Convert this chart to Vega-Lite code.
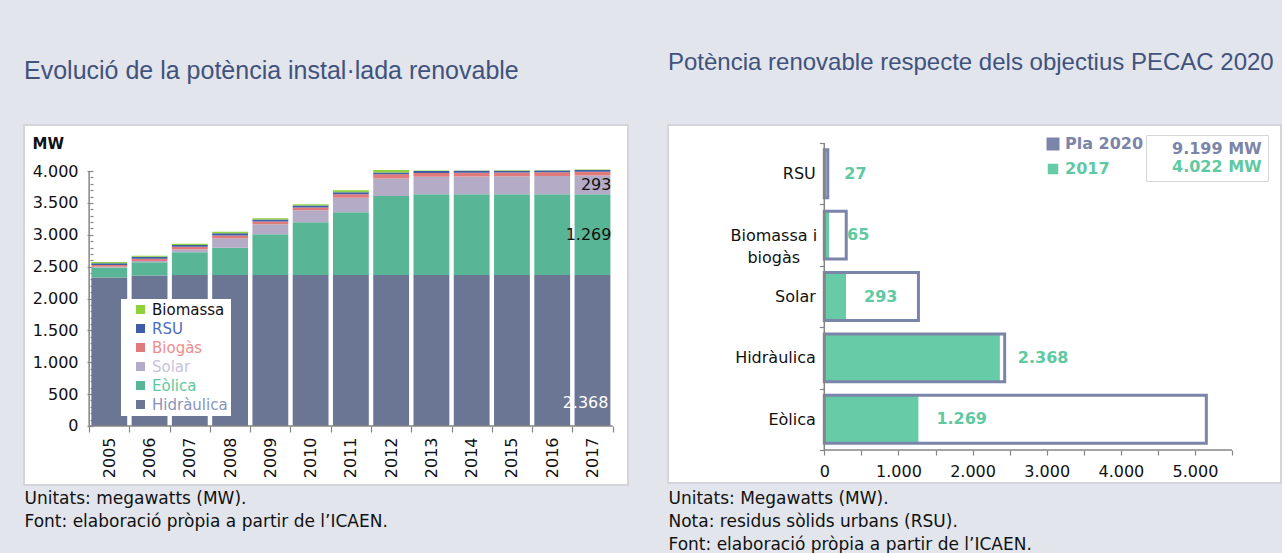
{
  "$schema": "https://vega.github.io/schema/vega-lite/v6.json",
  "background": "#e2e5ec",
  "padding": {"left": 15, "top": 50, "right": 0, "bottom": 0},
  "spacing": 38,
  "config": {
    "locale": {"number": {"decimal": ",", "thousands": ".", "grouping": [3], "currency": ["", " €"]}},
    "font": "DejaVu Sans",
    "axis": {"labelFont": "DejaVu Sans", "titleFont": "DejaVu Sans"},
    "legend": {"labelFont": "DejaVu Sans"}
  },
  "resolve": {
    "scale": {"x": "independent", "y": "independent", "color": "independent", "opacity": "independent"},
    "legend": {"color": "independent", "opacity": "independent"},
    "axis": {"x": "independent", "y": "independent"}
  },
  "hconcat": [
    {
      "width": 604,
      "height": 360,
      "view": {"fill": "white", "stroke": "#d3d5da", "strokeWidth": 2},
      "title": {"text": "Evolució de la potència instal·lada renovable", "anchor": "start", "frame": "group", "font": "Liberation Sans", "fontSize": 25, "fontWeight": "normal", "color": "#41527c", "offset": 41},
      "data": {"values": [
        {"year": "2005", "serie": "Hidràulica", "value": 2331}, {"year": "2005", "serie": "Eòlica", "value": 156}, {"year": "2005", "serie": "Solar", "value": 10}, {"year": "2005", "serie": "Biogàs", "value": 30}, {"year": "2005", "serie": "RSU", "value": 25}, {"year": "2005", "serie": "Biomassa", "value": 20},
        {"year": "2006", "serie": "Hidràulica", "value": 2362}, {"year": "2006", "serie": "Eòlica", "value": 208}, {"year": "2006", "serie": "Solar", "value": 20}, {"year": "2006", "serie": "Biogàs", "value": 35}, {"year": "2006", "serie": "RSU", "value": 30}, {"year": "2006", "serie": "Biomassa", "value": 15},
        {"year": "2007", "serie": "Hidràulica", "value": 2368}, {"year": "2007", "serie": "Eòlica", "value": 359}, {"year": "2007", "serie": "Solar", "value": 43}, {"year": "2007", "serie": "Biogàs", "value": 40}, {"year": "2007", "serie": "RSU", "value": 30}, {"year": "2007", "serie": "Biomassa", "value": 18},
        {"year": "2008", "serie": "Hidràulica", "value": 2368}, {"year": "2008", "serie": "Eòlica", "value": 427}, {"year": "2008", "serie": "Solar", "value": 152}, {"year": "2008", "serie": "Biogàs", "value": 40}, {"year": "2008", "serie": "RSU", "value": 35}, {"year": "2008", "serie": "Biomassa", "value": 24},
        {"year": "2009", "serie": "Hidràulica", "value": 2368}, {"year": "2009", "serie": "Eòlica", "value": 641}, {"year": "2009", "serie": "Solar", "value": 157}, {"year": "2009", "serie": "Biogàs", "value": 42}, {"year": "2009", "serie": "RSU", "value": 30}, {"year": "2009", "serie": "Biomassa", "value": 22},
        {"year": "2010", "serie": "Hidràulica", "value": 2368}, {"year": "2010", "serie": "Eòlica", "value": 829}, {"year": "2010", "serie": "Solar", "value": 189}, {"year": "2010", "serie": "Biogàs", "value": 42}, {"year": "2010", "serie": "RSU", "value": 30}, {"year": "2010", "serie": "Biomassa", "value": 22},
        {"year": "2011", "serie": "Hidràulica", "value": 2368}, {"year": "2011", "serie": "Eòlica", "value": 986}, {"year": "2011", "serie": "Solar", "value": 225}, {"year": "2011", "serie": "Biogàs", "value": 58}, {"year": "2011", "serie": "RSU", "value": 28}, {"year": "2011", "serie": "Biomassa", "value": 34},
        {"year": "2012", "serie": "Hidràulica", "value": 2368}, {"year": "2012", "serie": "Eòlica", "value": 1240}, {"year": "2012", "serie": "Solar", "value": 274}, {"year": "2012", "serie": "Biogàs", "value": 68}, {"year": "2012", "serie": "RSU", "value": 27}, {"year": "2012", "serie": "Biomassa", "value": 39},
        {"year": "2013", "serie": "Hidràulica", "value": 2368}, {"year": "2013", "serie": "Eòlica", "value": 1268}, {"year": "2013", "serie": "Solar", "value": 275}, {"year": "2013", "serie": "Biogàs", "value": 57}, {"year": "2013", "serie": "RSU", "value": 33}, {"year": "2013", "serie": "Biomassa", "value": 5},
        {"year": "2014", "serie": "Hidràulica", "value": 2368}, {"year": "2014", "serie": "Eòlica", "value": 1268}, {"year": "2014", "serie": "Solar", "value": 278}, {"year": "2014", "serie": "Biogàs", "value": 57}, {"year": "2014", "serie": "RSU", "value": 33}, {"year": "2014", "serie": "Biomassa", "value": 5},
        {"year": "2015", "serie": "Hidràulica", "value": 2368}, {"year": "2015", "serie": "Eòlica", "value": 1268}, {"year": "2015", "serie": "Solar", "value": 282}, {"year": "2015", "serie": "Biogàs", "value": 57}, {"year": "2015", "serie": "RSU", "value": 30}, {"year": "2015", "serie": "Biomassa", "value": 5},
        {"year": "2016", "serie": "Hidràulica", "value": 2368}, {"year": "2016", "serie": "Eòlica", "value": 1269}, {"year": "2016", "serie": "Solar", "value": 285}, {"year": "2016", "serie": "Biogàs", "value": 58}, {"year": "2016", "serie": "RSU", "value": 27}, {"year": "2016", "serie": "Biomassa", "value": 5},
        {"year": "2017", "serie": "Hidràulica", "value": 2368}, {"year": "2017", "serie": "Eòlica", "value": 1269}, {"year": "2017", "serie": "Solar", "value": 293}, {"year": "2017", "serie": "Biogàs", "value": 60}, {"year": "2017", "serie": "RSU", "value": 27}, {"year": "2017", "serie": "Biomassa", "value": 5}
      ]},
      "encoding": {
        "x": {
          "field": "year", "type": "ordinal",
          "scale": {"paddingInner": 0, "paddingOuter": 1.069, "align": 0.809},
          "axis": {
            "orient": "bottom", "offset": -59, "domain": false, "grid": false,
            "tickBand": "extent", "tickSize": 6, "tickColor": "#858585", "tickWidth": 1.2,
            "labelAngle": -90, "labelFontSize": 16, "labelColor": "#111111", "labelPadding": 5,
            "title": ["Unitats: megawatts (MW).", "Font: elaboració pròpia a partir de l’ICAEN."],
            "titleX": 0, "titleY": 64, "titleAlign": "left", "titleBaseline": "top", "titleAnchor": "start",
            "titleFontSize": 17, "titleFontWeight": "normal", "titleColor": "#111111", "titleLineHeight": 23
          }
        },
        "y": {
          "type": "quantitative",
          "scale": {"domain": [-925.5, 4721.6], "nice": false, "zero": false},
          "axis": {
            "orient": "left", "offset": -69, "domain": false, "grid": false,
            "values": [0,100,200,300,400,500,600,700,800,900,1000,1100,1200,1300,1400,1500,1600,1700,1800,1900,2000,2100,2200,2300,2400,2500,2600,2700,2800,2900,3000,3100,3200,3300,3400,3500,3600,3700,3800,3900,4000],
            "format": ",.0f", "labelExpr": "datum.value % 500 === 0 ? datum.label : ''", "labelOverlap": false, "labelFlush": false,
            "tickSize": {"condition": {"test": "datum.value % 500 === 0", "value": 6}, "value": 3},
            "tickColor": "#858585", "tickWidth": 1.2,
            "labelFontSize": 16, "labelColor": "#111111", "labelPadding": 9,
            "title": "MW", "titleAngle": 0, "titleX": -61, "titleY": 18, "titleAlign": "left", "titleBaseline": "middle",
            "titleFontSize": 15, "titleFontWeight": "bold", "titleColor": "#111111"
          }
        }
      },
      "layer": [
        {
          "transform": [{"calculate": "indexof(['Hidràulica','Eòlica','Solar','Biogàs','RSU','Biomassa'], datum.serie)", "as": "ord"}],
          "mark": {"type": "bar", "width": {"band": 0.89}},
          "encoding": {
            "y": {"field": "value", "type": "quantitative", "stack": "zero"},
            "color": {
              "field": "serie", "type": "nominal",
              "scale": {"domain": ["Biomassa", "RSU", "Biogàs", "Solar", "Eòlica", "Hidràulica"], "range": ["#8fd13c", "#3f5da6", "#e17b7b", "#b4abc6", "#58b595", "#6b7594"]},
              "legend": {
                "orient": "none", "legendX": 97, "legendY": 174, "title": null,
                "fillColor": "white", "padding": 3, "symbolType": "square", "symbolSize": 81, "symbolOffset": 9, "symbolStrokeWidth": 0,
                "labelFontSize": 15, "labelOffset": 4, "rowPadding": 3,
                "labelColor": {"expr": "datum.label == 'Biomassa' ? '#111111' : datum.label == 'RSU' ? '#4b6cc1' : datum.label == 'Biogàs' ? '#f08c8c' : datum.label == 'Solar' ? '#c8c2dc' : datum.label == 'Eòlica' ? '#5ec8a0' : '#8a93ba'"}
              }
            },
            "order": {"field": "ord", "type": "quantitative"}
          }
        },
        {
          "transform": [
            {"filter": "datum.year == '2017'"},
            {"calculate": "indexof(['Hidràulica','Eòlica','Solar','Biogàs','RSU','Biomassa'], datum.serie)", "as": "ord"}
          ],
          "mark": {"type": "text", "align": "right", "baseline": "middle", "dx": 19, "fontSize": 16, "color": "#111111"},
          "encoding": {
            "y": {"field": "value", "type": "quantitative", "stack": "zero", "bandPosition": 0.5},
            "detail": {"field": "serie"},
            "order": {"field": "ord", "type": "quantitative"},
            "text": {"condition": {"test": "datum.serie == 'Solar' || datum.serie == 'Eòlica'", "field": "value", "type": "quantitative", "format": ",.0f"}, "value": ""}
          }
        },
        {
          "transform": [{"filter": "datum.year == '2017' && datum.serie == 'Hidràulica'"}],
          "mark": {"type": "text", "align": "right", "baseline": "middle", "dx": 16, "fontSize": 16, "color": "white"},
          "encoding": {
            "y": {"field": "value", "type": "quantitative", "stack": "zero", "bandPosition": 0.15},
            "detail": {"field": "serie"},
            "text": {"field": "value", "type": "quantitative", "format": ",.0f"}
          }
        },
        {
          "data": {"values": [{}]},
          "mark": {"type": "rule", "color": "#858585", "strokeWidth": 1.5},
          "encoding": {
            "x": {"datum": "2005", "type": "ordinal", "bandPosition": 0},
            "y": {"datum": 0, "type": "quantitative"},
            "y2": {"datum": 4000}
          }
        },
        {
          "data": {"values": [{}]},
          "mark": {"type": "rule", "color": "#858585", "strokeWidth": 1.5},
          "encoding": {
            "x": {"datum": "2005", "type": "ordinal", "bandPosition": 0},
            "x2": {"datum": "2017", "bandPosition": 1},
            "y": {"datum": 0, "type": "quantitative"}
          }
        }
      ]
    },
    {
      "width": 613,
      "height": 358,
      "view": {"fill": "white", "stroke": "#d3d5da", "strokeWidth": 2},
      "title": {"text": "Potència renovable respecte dels objectius PECAC 2020", "anchor": "start", "frame": "group", "font": "Liberation Sans", "fontSize": 24, "fontWeight": "normal", "color": "#41527c", "offset": 42},
      "data": {"values": [
        {"cat": "RSU", "serie": "Pla 2020", "value": 47},
        {"cat": "Biomassa i biogàs", "serie": "Pla 2020", "value": 296},
        {"cat": "Solar", "serie": "Pla 2020", "value": 1270},
        {"cat": "Hidràulica", "serie": "Pla 2020", "value": 2433},
        {"cat": "Eòlica", "serie": "Pla 2020", "value": 5153},
        {"cat": "RSU", "serie": "2017", "value": 27},
        {"cat": "Biomassa i biogàs", "serie": "2017", "value": 65},
        {"cat": "Solar", "serie": "2017", "value": 293},
        {"cat": "Hidràulica", "serie": "2017", "value": 2368},
        {"cat": "Eòlica", "serie": "2017", "value": 1269}
      ]},
      "encoding": {
        "y": {
          "field": "cat", "type": "nominal",
          "scale": {"domain": ["RSU", "Biomassa i biogàs", "Solar", "Hidràulica", "Eòlica"], "paddingInner": 0, "paddingOuter": 0.415, "align": 0.353},
          "axis": {
            "orient": "left", "offset": -156.3, "domain": false, "grid": false, "title": null,
            "tickBand": "extent", "tickSize": 5, "tickColor": "#858585", "tickWidth": 1.2,
            "labelFontSize": 16, "labelColor": "#111111", "labelLineHeight": 22,
            "labelExpr": "datum.value == 'Biomassa i biogàs' ? ['Biomassa i', 'biogàs'] : datum.label",
            "labelAlign": {"condition": {"test": "datum.value == 'Biomassa i biogàs'", "value": "center"}, "value": "right"},
            "labelPadding": {"condition": {"test": "datum.value == 'Biomassa i biogàs'", "value": 46}, "value": 4}
          }
        },
        "x": {
          "type": "quantitative",
          "scale": {"domain": [-2108, 6160], "nice": false, "zero": false},
          "axis": {
            "orient": "bottom", "offset": -33, "domain": false, "grid": false,
            "values": [0,500,1000,1500,2000,2500,3000,3500,4000,4500,5000,5500],
            "format": ",.0f", "labelExpr": "datum.value % 1000 === 0 ? datum.label : ''", "labelOverlap": false, "labelFlush": false,
            "tickSize": 5, "tickColor": "#858585", "tickWidth": 1.2,
            "labelFontSize": 16, "labelColor": "#111111", "labelPadding": 8,
            "title": ["Unitats: Megawatts (MW).", "Nota: residus sòlids urbans (RSU).", "Font: elaboració pròpia a partir de l’ICAEN."],
            "titleX": 0, "titleY": 40, "titleAlign": "left", "titleBaseline": "top", "titleAnchor": "start",
            "titleFontSize": 17, "titleFontWeight": "normal", "titleColor": "#111111", "titleLineHeight": 23
          }
        }
      },
      "layer": [
        {
          "transform": [{"filter": "datum.serie == '2017'"}],
          "mark": {"type": "bar", "height": {"band": 0.78}},
          "encoding": {
            "x": {"field": "value", "type": "quantitative", "stack": null},
            "color": {
              "field": "serie", "type": "nominal",
              "scale": {"domain": ["Pla 2020", "2017"], "range": ["#7b85a9", "#66cba6"]},
              "legend": {
                "orient": "none", "legendX": 377, "legendY": 11, "title": null,
                "symbolType": "square", "symbolSize": 100, "symbolStrokeWidth": 2.5,
                "labelFontSize": 16, "labelFontWeight": "bold", "labelOffset": 4, "rowPadding": 5,
                "labelColor": {"expr": "datum.label == '2017' ? '#5fc9a2' : '#7b85a9'"},
                "encode": {
                  "symbols": {
                    "update": {
                      "fill": {"signal": "datum.value == '2017' ? '#66cba6' : 'white'"},
                      "stroke": {"signal": "datum.value == '2017' ? '#66cba6' : '#7b85a9'"},
                      "size": {"signal": "datum.value == '2017' ? 64 : 110"}
                    }
                  }
                }
              }
            },
            "opacity": {
              "datum": "4.022 MW", "type": "ordinal",
              "scale": {"domain": ["9.199 MW", "4.022 MW"], "range": [1, 1]},
              "legend": {
                "orient": "none", "legendX": 478, "legendY": 10, "title": null,
                "symbolSize": 0, "symbolOpacity": 0, "fillColor": "white", "strokeColor": "#d6d6d6", "padding": 6,
                "labelFontSize": 16, "labelFontWeight": "bold", "labelOffset": 4, "rowPadding": 2,
                "labelColor": {"expr": "datum.label == '4.022 MW' ? '#5fc9a2' : '#7b85a9'"}
              }
            }
          }
        },
        {
          "transform": [{"filter": "datum.serie == 'Pla 2020'"}],
          "mark": {"type": "bar", "height": {"band": 0.78}, "filled": false, "strokeWidth": 3},
          "encoding": {
            "x": {"field": "value", "type": "quantitative", "stack": null},
            "color": {"field": "serie", "type": "nominal"},
            "opacity": {"datum": "9.199 MW", "type": "ordinal"}
          }
        },
        {
          "transform": [{"filter": "datum.serie == '2017'"}],
          "mark": {"type": "text", "align": "left", "baseline": "middle", "dx": 18, "fontSize": 16, "fontWeight": "bold", "color": "#5fc9a2"},
          "encoding": {
            "x": {"field": "value", "type": "quantitative", "stack": null},
            "text": {"field": "value", "type": "quantitative", "format": ",.0f"}
          }
        },
        {
          "data": {"values": [{}]},
          "mark": {"type": "rule", "color": "#858585", "strokeWidth": 1.5},
          "encoding": {
            "x": {"datum": 0, "type": "quantitative"},
            "y": {"datum": "RSU", "type": "nominal", "bandPosition": 0},
            "y2": {"datum": "Eòlica", "bandPosition": 1}
          }
        },
        {
          "data": {"values": [{}]},
          "mark": {"type": "rule", "color": "#858585", "strokeWidth": 1.5},
          "encoding": {
            "x": {"datum": 0, "type": "quantitative"},
            "x2": {"datum": 5500},
            "y": {"datum": "Eòlica", "type": "nominal", "bandPosition": 1}
          }
        }
      ]
    }
  ]
}
